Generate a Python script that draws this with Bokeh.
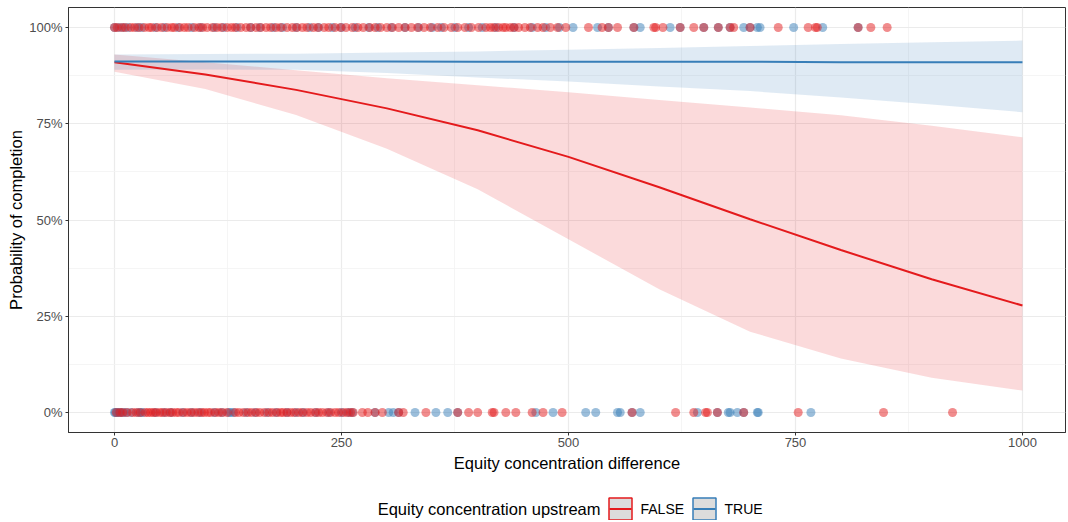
from bokeh.plotting import figure
from bokeh.layouts import column
from bokeh.models import (ColumnDataSource, Range1d, FixedTicker, NumeralTickFormatter, Label)
from bokeh.core.properties import value
from bokeh.embed import file_html
from bokeh.resources import INLINE

RED = "#E41A1C"
BLUE = "#377EB8"
FONT = "Liberation Sans"

# fitted curves
fit_x = [0, 100, 200, 300, 400, 500, 600, 700, 800, 900, 1000]
false_fit = [0.910, 0.878, 0.838, 0.790, 0.733, 0.664, 0.585, 0.502, 0.422, 0.346, 0.278]
false_hi = [0.930, 0.910, 0.889, 0.868, 0.850, 0.832, 0.812, 0.792, 0.772, 0.745, 0.715]
false_lo = [0.885, 0.840, 0.773, 0.685, 0.580, 0.450, 0.320, 0.210, 0.140, 0.090, 0.057]
true_fit = [0.912, 0.912, 0.912, 0.912, 0.911, 0.911, 0.911, 0.911, 0.910, 0.910, 0.910]
true_hi = [0.930, 0.931, 0.932, 0.935, 0.938, 0.942, 0.947, 0.952, 0.957, 0.962, 0.966]
true_lo = [0.890, 0.891, 0.890, 0.882, 0.870, 0.860, 0.847, 0.835, 0.818, 0.800, 0.780]

# observed deals: equity concentration difference, completed (1) / not completed (0)
false_done_x = [0, 3, 8, 12, 18, 22, 27, 33, 38, 41, 47, 52, 58, 63, 66, 72, 77, 81, 88, 93,
                97, 102, 108, 113, 118, 124, 129, 133, 139, 145, 150, 156, 161, 167, 172, 178,
                183, 190, 196, 201, 207, 212, 219, 224, 231, 236, 243, 249, 255, 262, 268, 274,
                281, 287, 293, 300, 306, 313, 320, 327, 334, 341, 348, 356, 363, 371, 378, 386,
                393, 401, 409, 414, 418, 423, 428, 431, 436, 440, 445, 452, 458, 466, 472, 480,
                488, 497, 522, 537, 544, 554, 572, 594, 596, 604, 623, 638, 649, 665, 678, 682,
                700, 731, 764, 772, 774, 819, 833, 851]
true_done_x = [0, 5, 10, 15, 25, 30, 45, 55, 70, 85, 95, 110, 120, 135, 150, 160, 175, 185,
               200, 215, 225, 240, 250, 265, 280, 290, 305, 320, 335, 350, 360, 375, 390, 405,
               420, 440, 460, 475, 490, 505, 532, 544, 572, 579, 612, 623, 649, 665, 678, 693,
               700, 708, 711, 748, 780, 819]
false_fail_x = [2, 6, 9, 14, 20, 24, 28, 34, 37, 40, 43, 46, 50, 53, 57, 61, 64, 68, 71, 76,
                80, 84, 88, 92, 96, 99, 103, 106, 111, 115, 119, 124, 133, 137, 142, 147, 151,
                156, 160, 165, 170, 174, 179, 183, 186, 190, 194, 198, 203, 207, 212, 216, 221,
                225, 229, 234, 238, 243, 247, 252, 256, 260, 263, 273, 279, 287, 295, 313, 318,
                343, 378, 390, 400, 416, 418, 431, 442, 460, 472, 493, 570, 618, 638, 651, 653,
                664, 693, 753, 847, 923]
true_fail_x = [0, 1, 3, 5, 7, 10, 13, 18, 26, 29, 31, 45, 55, 62, 75, 85, 94, 110, 118, 126,
               128, 131, 145, 155, 168, 178, 190, 200, 208, 222, 236, 250, 258, 262, 287, 302,
               307, 313, 331, 354, 367, 378, 464, 483, 519, 530, 554, 557, 570, 579, 642, 664,
               676, 678, 686, 693, 708, 709, 767]

x_ticks = [0, 250, 500, 750, 1000]
x_minor = [125, 375, 625, 875]
y_ticks = [0, 0.25, 0.5, 0.75, 1.0]
y_minor = [0.125, 0.375, 0.625, 0.875]

legend_title_text = "Equity concentration upstream"
legend_labels = ["FALSE", "TRUE"]
legend_colors = [RED, BLUE]

W = 1066
p = figure(width=W, height=496, output_backend="svg", toolbar_location=None,
           x_range=Range1d(-50.66, 1047.4), y_range=Range1d(-0.052, 1.052),
           min_border_left=68, min_border_right=1, min_border_top=7, min_border_bottom=64)
p.background_fill_color = "white"
p.border_fill_color = "white"
p.outline_line_color = "#333333"
p.outline_line_width = 1

fit_src = ColumnDataSource(dict(x=fit_x, ff=false_fit, fh=false_hi, fl=false_lo,
                                tf=true_fit, th=true_hi, tl=true_lo))

p.varea(x="x", y1="fl", y2="fh", source=fit_src, fill_color=RED, fill_alpha=0.16)
p.varea(x="x", y1="tl", y2="th", source=fit_src, fill_color=BLUE, fill_alpha=0.16)
p.line(x="x", y="ff", source=fit_src, line_color=RED, line_width=2)
p.line(x="x", y="tf", source=fit_src, line_color=BLUE, line_width=2)

p.scatter(x=true_done_x, y=[1] * len(true_done_x), size=9, fill_color=BLUE, line_color=None, fill_alpha=0.5)
p.scatter(x=true_fail_x, y=[0] * len(true_fail_x), size=9, fill_color=BLUE, line_color=None, fill_alpha=0.5)
p.scatter(x=false_done_x, y=[1] * len(false_done_x), size=9, fill_color=RED, line_color=None, fill_alpha=0.5)
p.scatter(x=false_fail_x, y=[0] * len(false_fail_x), size=9, fill_color=RED, line_color=None, fill_alpha=0.5)

# axes
p.xaxis.ticker = FixedTicker(ticks=x_ticks, minor_ticks=x_minor)
p.yaxis.ticker = FixedTicker(ticks=y_ticks, minor_ticks=y_minor)
p.yaxis.formatter = NumeralTickFormatter(format="0%")
p.xaxis.axis_label = "Equity concentration difference"
p.yaxis.axis_label = "Probability of completion"
for ax in (p.xaxis, p.yaxis):
    ax.axis_line_color = "#333333"
    ax.major_tick_line_color = "#333333"
    ax.major_tick_out = 3
    ax.major_tick_in = 0
    ax.minor_tick_line_color = None
    ax.major_label_text_font = FONT
    ax.major_label_text_font_size = "13px"
    ax.major_label_text_color = "#4D4D4D"
    ax.axis_label_text_font = FONT
    ax.axis_label_text_font_size = "16.5px"
    ax.axis_label_text_font_style = "normal"
    ax.axis_label_text_color = "black"
p.xaxis.major_label_standoff = 1
p.yaxis.major_label_standoff = 2
p.xaxis.axis_label_standoff = 4
p.yaxis.axis_label_standoff = 1

for g in (p.xgrid, p.ygrid):
    g.grid_line_color = "#EBEBEB"
    g.grid_line_width = 1.2
    g.minor_grid_line_color = "#F2F2F2"
    g.minor_grid_line_width = 0.8

# legend strip below the plot (its frame is aligned with the main plot frame: x 68..1065 px)
lf = figure(width=W, height=24, output_backend="svg", toolbar_location=None,
            x_range=Range1d(68, 1065), y_range=Range1d(0, 24),
            min_border_left=68, min_border_right=1, min_border_top=0, min_border_bottom=0)
lf.axis.visible = False
lf.grid.visible = False
lf.outline_line_color = None
lf.background_fill_color = "white"
lf.border_fill_color = "white"

key_x = [620, 704]
key_line_x0 = [609, 693]
key_line_x1 = [631, 715]
key_label_x = [640, 724]
lf.rect(x=key_x, y=[11.5, 11.5], width=23, height=22, fill_color="#DCDCDC",
        line_color=legend_colors, line_width=1.5)
lf.segment(x0=key_line_x0, x1=key_line_x1, y0=[11.5, 11.5], y1=[11.5, 11.5],
           line_color=legend_colors, line_width=2)
lf.text(x=key_label_x, y=[11.5, 11.5], text=legend_labels, text_font=value(FONT),
        text_font_size="14px", text_baseline="middle", text_align="left", text_color="black")

lf.add_layout(Label(x=600, y=11.5, text=legend_title_text, text_align="right",
                    text_baseline="middle", text_font=FONT, text_font_size="16.5px",
                    text_color="black"))

layout = column(p, lf, spacing=0)
open("out.html", "w").write(file_html(layout, INLINE))
